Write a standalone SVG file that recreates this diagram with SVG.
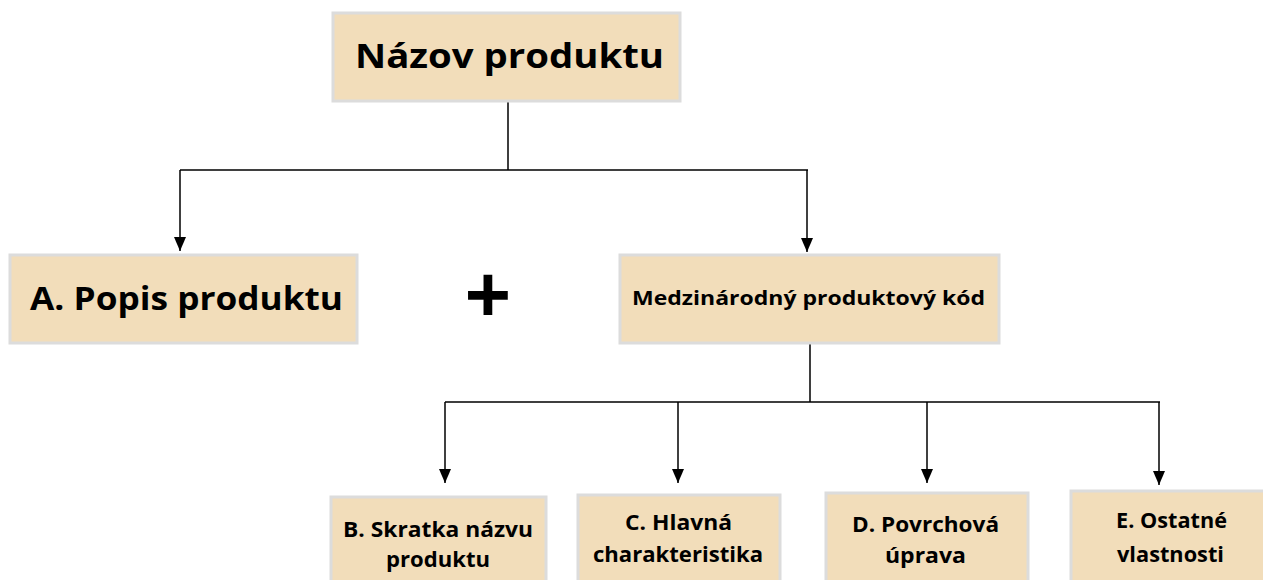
<svg xmlns="http://www.w3.org/2000/svg" width="1263" height="580" viewBox="0 0 1263 580">
<style>
.box{fill:#f2ddba;stroke:#dcdcdc;stroke-width:3}
.t{font-family:"Open Sans","Liberation Sans",sans-serif;font-weight:bold;fill:#000;text-anchor:middle}
.c{fill:none;stroke:#000;stroke-width:1.5}
</style>
<defs>
<marker id="ah" markerWidth="14" markerHeight="12" refX="14" refY="6" orient="auto" markerUnits="userSpaceOnUse" viewBox="0 0 14 12">
<path d="M0,0 L14,6 L0,12 Z" fill="#000"/>
</marker>
</defs>
<rect width="1263" height="580" fill="#fff"/>
<g id="connectors">
<path class="c" d="M508,102 V170 M180,170 H808"/>
<path class="c" d="M180,170 V251" marker-end="url(#ah)"/>
<path class="c" d="M807,170 V252" marker-end="url(#ah)"/>
<path class="c" d="M810,344 V402 M445,402 H1160"/>
<path class="c" d="M445,402 V483" marker-end="url(#ah)"/>
<path class="c" d="M678,402 V483" marker-end="url(#ah)"/>
<path class="c" d="M927,402 V483" marker-end="url(#ah)"/>
<path class="c" d="M1159,402 V485" marker-end="url(#ah)"/>
</g>
<g id="n-top">
<rect class="box" x="333" y="13" width="347" height="88"/>
<text class="t" x="509.5" y="68" font-size="34" textLength="309" lengthAdjust="spacingAndGlyphs">Názov produktu</text>
</g>
<g id="n-a">
<rect class="box" x="10" y="255" width="347" height="88"/>
<text class="t" x="186.5" y="310" font-size="32" textLength="313" lengthAdjust="spacingAndGlyphs">A. Popis produktu</text>
</g>
<g id="plus">
<text class="t" x="488" y="324" font-size="82">+</text>
</g>
<g id="n-code">
<rect class="box" x="620" y="255" width="379" height="88"/>
<text class="t" x="808.5" y="305" font-size="20" textLength="353" lengthAdjust="spacingAndGlyphs">Medzinárodný produktový kód</text>
</g>
<g id="n-b">
<rect class="box" x="331" y="497" width="215" height="90"/>
<text class="t" x="438" y="537" font-size="21" textLength="190" lengthAdjust="spacingAndGlyphs">B. Skratka názvu</text>
<text class="t" x="438" y="567" font-size="21" textLength="104" lengthAdjust="spacingAndGlyphs">produktu</text>
</g>
<g id="n-c">
<rect class="box" x="578" y="495" width="202" height="92"/>
<text class="t" x="678.5" y="530" font-size="21" textLength="107" lengthAdjust="spacingAndGlyphs">C. Hlavná</text>
<text class="t" x="678" y="562" font-size="21" textLength="170" lengthAdjust="spacingAndGlyphs">charakteristika</text>
</g>
<g id="n-d">
<rect class="box" x="826" y="493" width="202" height="94"/>
<text class="t" x="925.5" y="532" font-size="21" textLength="147" lengthAdjust="spacingAndGlyphs">D. Povrchová</text>
<text class="t" x="925.5" y="563" font-size="21" textLength="81" lengthAdjust="spacingAndGlyphs">úprava</text>
</g>
<g id="n-e">
<rect class="box" x="1071" y="491" width="200" height="96"/>
<text class="t" x="1171.5" y="528" font-size="21" textLength="111" lengthAdjust="spacingAndGlyphs">E. Ostatné</text>
<text class="t" x="1170.5" y="562" font-size="21" textLength="107" lengthAdjust="spacingAndGlyphs">vlastnosti</text>
</g>
</svg>
